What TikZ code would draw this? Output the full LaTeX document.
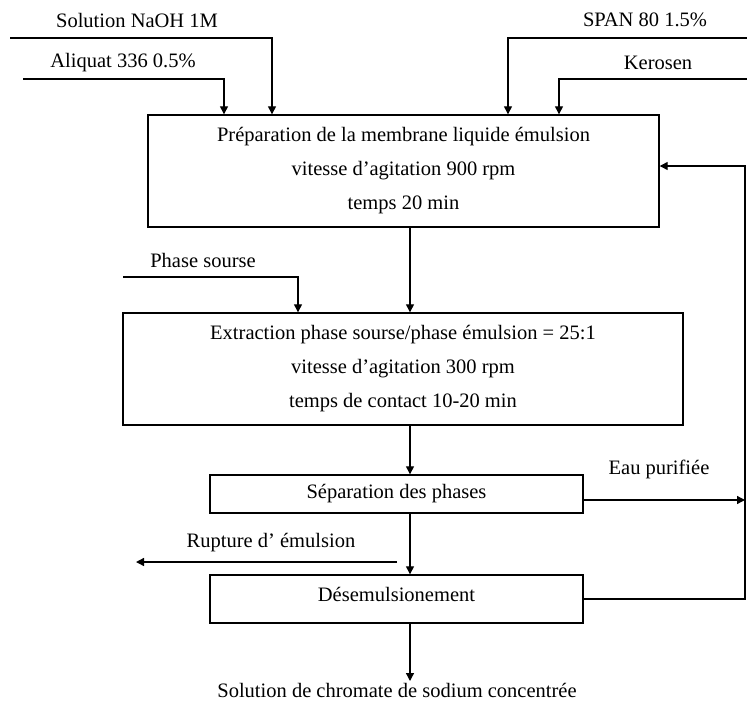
\documentclass[tikz,border=0pt]{standalone}
\usepackage{fontspec}
\setmainfont{Liberation Serif}
\usetikzlibrary{arrows.meta}
\begin{document}
\begin{tikzpicture}[x=1pt,y=-1pt,
  every node/.style={font=\fontsize{20.5}{34}\selectfont, inner sep=0pt},
  procbox/.style={draw, line width=1.4pt, align=center, inner sep=0pt},
  lbl/.style={anchor=center},
  arr/.style={line width=1.3pt, -{Triangle[length=8pt,width=8pt]}},
  ln/.style={line width=1.3pt}]
\useasboundingbox (0,0) rectangle (747,702);
% boxes
\node[procbox, minimum width=511pt, minimum height=112pt] (b1) at (403.5,171)
  {Préparation de la membrane liquide émulsion\\vitesse d’agitation 900 rpm\\temps 20 min};
\node[procbox, minimum width=560pt, minimum height=112pt] (b2) at (403,369)
  {Extraction phase sourse/phase émulsion = 25:1\\vitesse d’agitation 300 rpm\\temps de contact 10-20 min};
\node[procbox, minimum width=373pt, minimum height=38pt] (b3) at (396.5,494) {Séparation des phases};
\node[procbox, minimum width=373pt, minimum height=48pt, text depth=10pt] (b4) at (396.5,599) {Désemulsionement};
% labels
\node[lbl] (tNaOH) at (137,20) {Solution NaOH 1M};
\node[lbl] (tAliq) at (123,63) {Aliquat 336 0.5\%};
\node[lbl] (tSpan) at (645,20) {SPAN 80 1.5\%};
\node[lbl] (tKer) at (658,63) {Kerosen};
\node[lbl] (tPhase) at (203,260) {Phase sourse};
\node[lbl] (tEau) at (659,469) {Eau purifiée};
\node[lbl] (tRupt) at (271,543) {Rupture d’ émulsion};
\node[lbl] (tSol) at (397,690) {Solution de chromate de sodium concentrée};
% coordinates
\coordinate (naohS) at (10,38);
\coordinate (naohC) at (272,38);
\coordinate (aliS) at (23,79);
\coordinate (aliC) at (224,79);
\coordinate (spanS) at (747,38);
\coordinate (spanC) at (508,38);
\coordinate (kerS) at (747,79);
\coordinate (kerC) at (559,79);
\coordinate (phS) at (123,277);
\coordinate (phC) at (298,277);
\coordinate (xm) at (410,0);
\coordinate (fbx) at (745,0);
\coordinate (fbTop) at (745,166);
\coordinate (ruptS) at (397,562);
\coordinate (ruptE) at (136,562);
\coordinate (solE) at (410,681);
% connectors
\draw[arr] (naohS) -- (naohC) -- (naohC |- b1.north);
\draw[arr] (aliS) -- (aliC) -- (aliC |- b1.north);
\draw[arr] (spanS) -- (spanC) -- (spanC |- b1.north);
\draw[arr] (kerS) -- (kerC) -- (kerC |- b1.north);
\draw[arr] (phS) -- (phC) -- (phC |- b2.north);
\draw[arr] (xm |- b1.south) -- (xm |- b2.north);
\draw[arr] (xm |- b2.south) -- (xm |- b3.north);
\draw[arr] (xm |- b3.south) -- (xm |- b4.north);
\draw[arr] (xm |- b4.south) -- (solE);
\draw[arr] (b3.east |- 0,500) -- (fbx |- 0,500);
\draw[arr] (ruptS) -- (ruptE);
\draw[arr] (b4.east) -- (fbx |- b4.east) -- (fbTop) -- (fbTop -| b1.east);
\end{tikzpicture}
\end{document}
